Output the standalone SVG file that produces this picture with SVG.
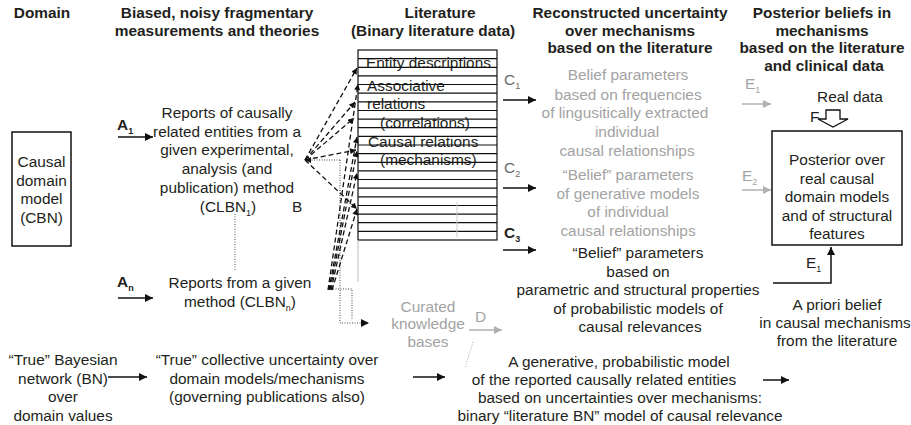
<svg xmlns="http://www.w3.org/2000/svg" width="911" height="425" viewBox="0 0 911 425">
<defs>
<style>
text{font-family:"Liberation Sans",Arial,sans-serif;font-size:15.4px;fill:#231f20}
.h{font-weight:bold}
.m{text-anchor:middle}
.g{fill:#a3a3a3}
.c{fill:#6a6a6a}
.b{font-weight:bold}
.ln{stroke:#111;stroke-width:1.5;fill:none}
.lg{stroke:#b0b0b0;stroke-width:1.5;fill:none}
.ds{stroke:#111;stroke-width:1.3;fill:none;stroke-dasharray:5 3}
.dt{stroke:#444;stroke-width:1;fill:none;stroke-dasharray:1 1.5}
.tb{stroke:#111;stroke-width:1.2}
</style>
<marker id="ah" viewBox="0 0 10 10" refX="10" refY="5" markerWidth="7" markerHeight="6" markerUnits="userSpaceOnUse" orient="auto"><path d="M0,0L10,5L0,10z" fill="#111"/></marker>
<marker id="ahs" viewBox="0 0 10 10" refX="10" refY="5" markerWidth="9" markerHeight="8" markerUnits="userSpaceOnUse" orient="auto"><path d="M0,0L10,5L0,10z" fill="#111"/></marker>
<marker id="ahg" viewBox="0 0 10 10" refX="10" refY="5" markerWidth="9" markerHeight="8" markerUnits="userSpaceOnUse" orient="auto"><path d="M0,0L10,5L0,10z" fill="#b0b0b0"/></marker>
</defs>

<g id="headings">
<text class="h" x="42" y="18" text-anchor="middle">Domain</text>
<text class="h m" x="217" y="18">Biased, noisy fragmentary</text>
<text class="h m" x="217" y="35.5">measurements and theories</text>
<text class="h m" x="440" y="18">Literature</text>
<text class="h m" x="433" y="35.5">(Binary literature data)</text>
<text class="h m" x="630" y="18">Reconstructed uncertainty</text>
<text class="h m" x="630" y="35.5">over mechanisms</text>
<text class="h m" x="630" y="53">based on the literature</text>
<text class="h m" x="822" y="18">Posterior beliefs in</text>
<text class="h m" x="822" y="35.5">mechanisms</text>
<text class="h m" x="822" y="53">based on the literature</text>
<text class="h m" x="824" y="70.5">and clinical data</text>
</g>

<g id="cbn">
<rect x="12" y="132" width="59" height="114" fill="none" stroke="#111" stroke-width="1.5"/>
<text class="m" x="41.5" y="167">Causal</text>
<text class="m" x="41.5" y="185.5">domain</text>
<text class="m" x="41.5" y="204">model</text>
<text class="m" x="41.5" y="222.5">(CBN)</text>
</g>

<g id="clbn1">
<text class="m" x="227" y="118">Reports of causally</text>
<text class="m" x="227" y="136.7">related entities from a</text>
<text class="m" x="227" y="155.4">given experimental,</text>
<text class="m" x="227" y="174">analysis (and</text>
<text class="m" x="227" y="192.8">publication) method</text>
<text class="m" x="228" y="211.5">(CLBN<tspan dy="4" font-size="9">1</tspan><tspan dy="-4">)</tspan></text>
<text x="292" y="212">B</text>
</g>

<g id="clbnn">
<text class="m" x="240" y="288">Reports from a given</text>
<text class="m" x="240" y="306.5">method (CLBN<tspan dy="4" font-size="9">n</tspan><tspan dy="-4">)</tspan></text>
</g>

<g id="literature">
<rect x="358" y="50" width="139" height="190" fill="#fff" stroke="#111" stroke-width="1.2"/>
<text x="366" y="68">Entity descriptions</text>
<text x="367" y="91">Associative</text>
<text x="367" y="109">relations</text>
<text x="380" y="128">(correlations)</text>
<text x="368" y="147">Causal relations</text>
<text x="380" y="165">(mechanisms)</text>
<g class="tb">
<line x1="358" y1="58.6" x2="497" y2="58.6"/>
<line x1="358" y1="67.3" x2="497" y2="67.3"/>
<line x1="358" y1="75.9" x2="497" y2="75.9"/>
<line x1="358" y1="84.5" x2="497" y2="84.5"/>
<line x1="358" y1="93.2" x2="497" y2="93.2"/>
<line x1="358" y1="101.8" x2="497" y2="101.8"/>
<line x1="358" y1="110.5" x2="497" y2="110.5"/>
<line x1="358" y1="119.1" x2="497" y2="119.1"/>
<line x1="358" y1="127.7" x2="497" y2="127.7"/>
<line x1="358" y1="136.4" x2="497" y2="136.4"/>
<line x1="358" y1="145" x2="497" y2="145"/>
<line x1="358" y1="153.6" x2="497" y2="153.6"/>
<line x1="358" y1="162.3" x2="497" y2="162.3"/>
<line x1="358" y1="170.9" x2="497" y2="170.9"/>
<line x1="358" y1="179.5" x2="497" y2="179.5"/>
<line x1="358" y1="188.2" x2="497" y2="188.2"/>
<line x1="358" y1="196.8" x2="497" y2="196.8"/>
<line x1="358" y1="205.5" x2="497" y2="205.5"/>
<line x1="358" y1="214.1" x2="497" y2="214.1"/>
<line x1="358" y1="222.7" x2="497" y2="222.7"/>
<line x1="358" y1="231.4" x2="497" y2="231.4"/>
</g>
<line x1="358" y1="240" x2="358" y2="282" stroke="#bbb" stroke-width="1"/>
<line x1="457" y1="202" x2="457" y2="237" stroke="#ccc" stroke-width="1"/>
</g>

<g id="curated">
<text class="m g" x="428" y="312">Curated</text>
<text class="m g" x="428" y="329">knowledge</text>
<text class="m g" x="428" y="347">bases</text>
<text class="g" x="475" y="322">D</text>
</g>

<g id="c1block">
<text class="c" x="504" y="85">C<tspan dy="4" font-size="9">1</tspan></text>
<text class="m g" x="628" y="80">Belief parameters</text>
<text class="m g" x="628" y="99.5">based on frequencies</text>
<text class="m g" x="625" y="118">of lingusitically extracted</text>
<text class="m g" x="627" y="137">individual</text>
<text class="m g" x="627" y="155.5">causal relationships</text>
</g>

<g id="c2block">
<text class="c" x="504" y="173">C<tspan dy="4" font-size="9">2</tspan></text>
<text class="m g" x="628" y="180">“Belief” parameters</text>
<text class="m g" x="628" y="198.5">of generative models</text>
<text class="m g" x="628" y="217">of individual</text>
<text class="m g" x="628" y="236">causal relationships</text>
</g>

<g id="c3block">
<text class="b" x="504" y="238">C<tspan dy="4" font-size="9">3</tspan></text>
<text class="m" x="638" y="258">“Belief” parameters</text>
<text class="m" x="638" y="276.5">based on</text>
<text class="m" x="638" y="295">parametric and structural properties</text>
<text class="m" x="638" y="313.5">of probabilistic models of</text>
<text class="m" x="640" y="332">causal relevances</text>
</g>

<g id="posterior">
<text class="m" x="850" y="102">Real data</text>
<text x="810" y="122">F</text>
<path d="M826,110H840V119H848L833,127L818,119H826Z" fill="#fff" stroke="#111" stroke-width="1.3"/>
<rect x="772" y="131" width="130" height="114" fill="none" stroke="#111" stroke-width="1.5"/>
<text class="m" x="837" y="165">Posterior over</text>
<text class="m" x="837" y="183.5">real causal</text>
<text class="m" x="837" y="202">domain models</text>
<text class="m" x="837" y="220.5">and of structural</text>
<text class="m" x="837" y="239">features</text>
<text class="g" x="745" y="89">E<tspan dy="4" font-size="9">1</tspan></text>
<text class="g" x="742" y="181">E<tspan dy="4" font-size="9">2</tspan></text>
<text x="806" y="268">E<tspan dy="4" font-size="9">1</tspan></text>
</g>

<g id="apriori">
<text class="m" x="837" y="310">A priori belief</text>
<text class="m" x="835" y="328">in causal mechanisms</text>
<text class="m" x="837" y="346">from the literature</text>
</g>

<g id="bottom">
<text class="m" x="63" y="365">“True” Bayesian</text>
<text class="m" x="63" y="383.5">network (BN)</text>
<text class="m" x="63" y="402">over</text>
<text class="m" x="63" y="420.5">domain values</text>
<text class="m" x="267" y="365">“True” collective uncertainty over</text>
<text class="m" x="267" y="383.5">domain models/mechanisms</text>
<text class="m" x="267" y="402">(governing publications also)</text>
<text class="m" x="619" y="367">A generative, probabilistic model</text>
<text class="m" x="604" y="385">of the reported causally related entities</text>
<text class="m" x="620" y="403">based on uncertainties over mechanisms:</text>
<text class="m" x="620" y="421">binary “literature BN” model of causal relevance</text>
</g>

<g id="labelsA">
<text class="b" x="117" y="130">A<tspan dy="4" font-size="9">1</tspan></text>
<text class="b" x="117" y="287">A<tspan dy="4" font-size="9">n</tspan></text>
</g>

<g id="connectors">
<line class="ln" x1="118" y1="137" x2="153" y2="137" marker-end="url(#ahs)"/>
<line class="ln" x1="118" y1="298" x2="153" y2="298" marker-end="url(#ahs)"/>
<line class="ln" x1="503" y1="100" x2="536" y2="100" marker-end="url(#ahs)"/>
<line class="ln" x1="503" y1="188" x2="536" y2="188" marker-end="url(#ahs)"/>
<line class="ln" x1="503" y1="250" x2="536" y2="250" marker-end="url(#ahs)"/>
<line class="lg" x1="742" y1="104" x2="771" y2="104" marker-end="url(#ahg)"/>
<line class="lg" x1="742" y1="190" x2="771" y2="190" marker-end="url(#ahg)"/>
<line class="lg" x1="469" y1="330" x2="502" y2="330" marker-end="url(#ahg)"/>
<polyline class="ln" points="773,283 831,283 831,247" marker-end="url(#ahs)"/>
<line class="ln" x1="108" y1="377" x2="147" y2="377" marker-end="url(#ahs)"/>
<line class="ln" x1="413" y1="377" x2="445" y2="377" marker-end="url(#ahs)"/>
<line class="ln" x1="763" y1="380" x2="789" y2="380" marker-end="url(#ahs)"/>
<line x1="473" y1="342" x2="465" y2="368" stroke="#aaa" stroke-width="1" stroke-dasharray="1 1.5"/>
<line x1="235" y1="214" x2="235" y2="270" stroke="#555" stroke-width="1" stroke-dasharray="1 1.5"/>
<polyline class="dt" points="340,160 340,323 369,323" marker-end="url(#ahs)"/>
<line class="dt" x1="340" y1="160" x2="305" y2="160" marker-end="url(#ah)"/>
<polyline class="dt" points="328,289 352,289 352,320"/>
<line class="ds" x1="305" y1="160" x2="357" y2="68" marker-end="url(#ah)"/>
<line class="ds" x1="305" y1="160" x2="355" y2="102" marker-end="url(#ah)"/>
<line class="ds" x1="305" y1="160" x2="354" y2="118" marker-end="url(#ah)"/>
<line class="ds" x1="305" y1="160" x2="356" y2="150" marker-end="url(#ah)"/>
<line class="ds" x1="305" y1="160" x2="357" y2="209" marker-end="url(#ah)"/>
<line class="ds" x1="328" y1="290" x2="358" y2="84" marker-end="url(#ah)"/>
<line class="ds" x1="329" y1="290" x2="357" y2="137" marker-end="url(#ah)"/>
<line class="ds" x1="330" y1="290" x2="357" y2="151" marker-end="url(#ah)"/>
<line class="ds" x1="331" y1="290" x2="357" y2="173" marker-end="url(#ah)"/>
<line class="ds" x1="332" y1="290" x2="357" y2="209" marker-end="url(#ah)"/>
</g>
</svg>
